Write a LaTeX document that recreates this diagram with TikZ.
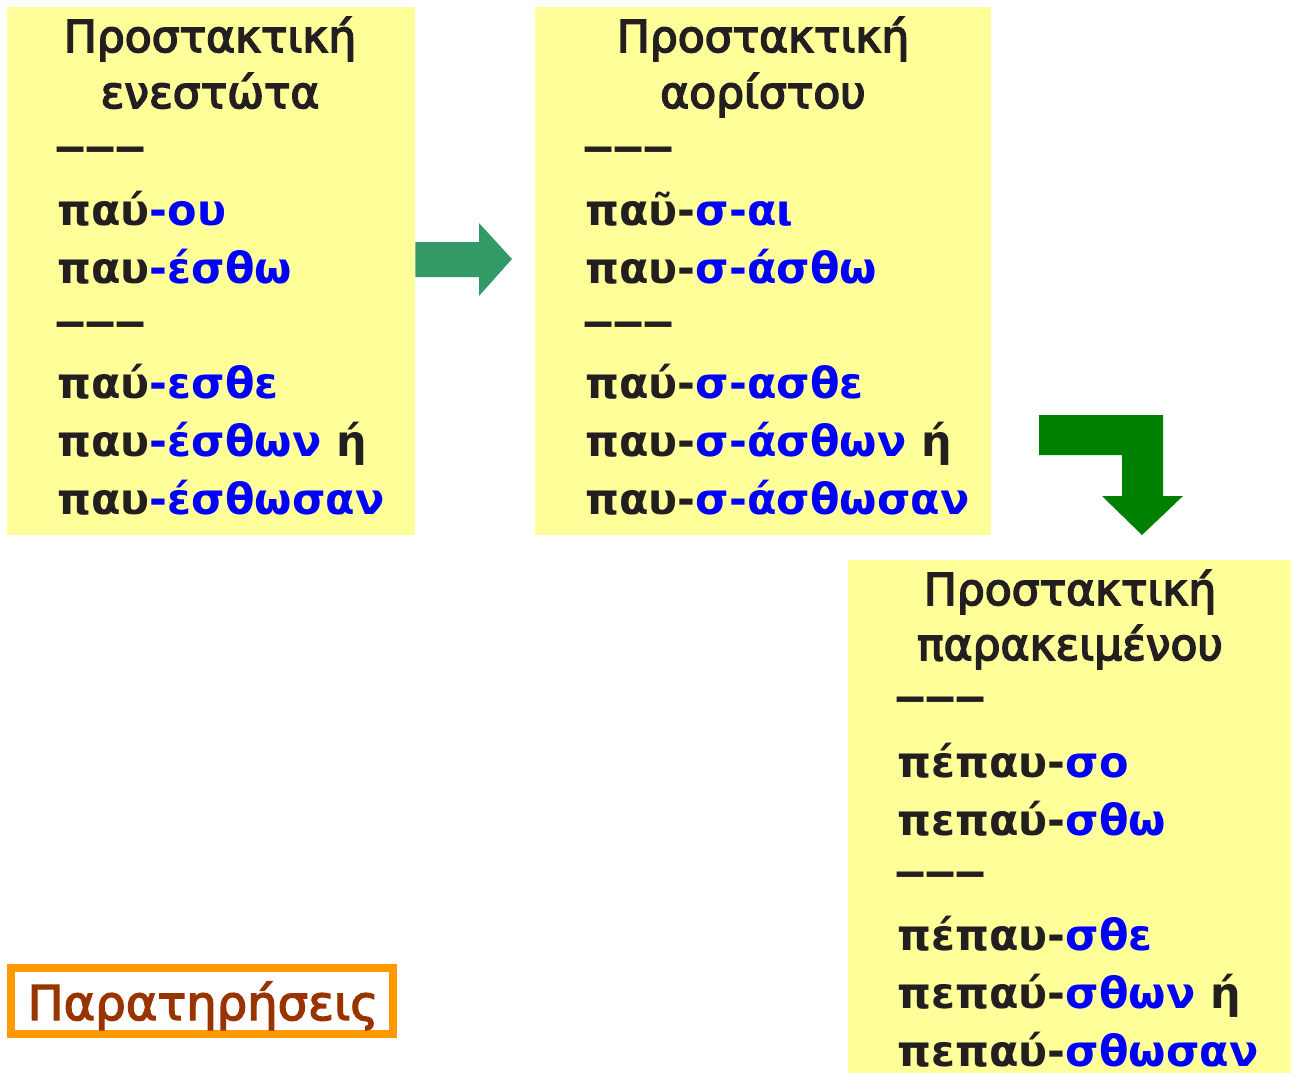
\documentclass[tikz,border=0pt]{standalone}
\usepackage{fontspec}
\setmainfont{DejaVu Sans}
\definecolor{panelyellow}{HTML}{FFFF99}
\definecolor{stemblack}{HTML}{231F20}
\definecolor{endblue}{HTML}{0000FF}
\definecolor{arrowteal}{HTML}{339966}
\definecolor{arrowgreen}{HTML}{008000}
\definecolor{notebrown}{HTML}{993300}
\definecolor{noteorange}{HTML}{FF9900}
\newcommand\suffix[1]{\textcolor{endblue}{#1}}
\newcommand\divider{\scalebox{0.7}[1]{———}}
\newcommand\heavier[2]{\special{pdf:literal direct 2 Tr #1 w}#2\special{pdf:literal direct 0 Tr}}
\tikzset{
  panel/.style={fill=panelyellow, inner sep=0pt},
  head/.style={font=\fontsize{22}{26}\selectfont, text=stemblack, anchor=base, inner sep=0pt},
  form/.style={font=\bfseries\fontsize{21.5}{26}\selectfont, text=stemblack, anchor=base west, inner sep=0pt},
}

\begin{document}
\begin{tikzpicture}[x=0.5pt, y=-0.5pt]
\useasboundingbox (0,0) rectangle (1291,1073);
\node[panel, minimum width=204pt, minimum height=264pt] (pres) at (211,271) {};
\node[panel, minimum width=228pt, minimum height=264pt] (aor) at (763,271) {};
\node[panel, minimum width=221.5pt, minimum height=256.5pt] (perf) at (1069.5,816.5) {};

\node[head] (presH1) at (210,52) {\heavier{0.8}{Προστακτική}};
\node[head] (presH2) at (210,108) {\heavier{0.8}{ενεστώτα}};
\node[form] (presD1) at (55,161) {\divider};
\node[form] (pres1) at (57,225) {παύ\suffix{-ου}};
\node[form] (pres2) at (57,283) {παυ\suffix{-έσθω}};
\node[form] (presD2) at (55,336) {\divider};
\node[form] (pres3) at (57,398) {παύ\suffix{-εσθε}};
\node[form] (pres4) at (57,456) {παυ\suffix{-έσθων} ή};
\node[form] (pres5) at (57,514) {παυ\suffix{-έσθωσαν}};

\node[head] (aorH1) at (763,52) {\heavier{0.8}{Προστακτική}};
\node[head] (aorH2) at (763,108) {\heavier{0.8}{αορίστου}};
\node[form] (aorD1) at (583,161) {\divider};
\node[form] (aor1) at (585,225) {παῦ-\suffix{σ-αι}};
\node[form] (aor2) at (585,283) {παυ-\suffix{σ-άσθω}};
\node[form] (aorD2) at (583,336) {\divider};
\node[form] (aor3) at (585,398) {παύ-\suffix{σ-ασθε}};
\node[form] (aor4) at (585,456) {παυ-\suffix{σ-άσθων} ή};
\node[form] (aor5) at (585,514) {παυ-\suffix{σ-άσθωσαν}};

\node[head] (perfH1) at (1070,605) {\heavier{0.8}{Προστακτική}};
\node[head] (perfH2) at (1070,660) {\heavier{0.8}{παρακειμένου}};
\node[form] (perfD1) at (895,711) {\divider};
\node[form] (perf1) at (897,777) {πέπαυ-\suffix{σο}};
\node[form] (perf2) at (897,835) {πεπαύ-\suffix{σθω}};
\node[form] (perfD2) at (895,886) {\divider};
\node[form] (perf3) at (897,950) {πέπαυ-\suffix{σθε}};
\node[form] (perf4) at (897,1008) {πεπαύ-\suffix{σθων} ή};
\node[form] (perf5) at (897,1066) {πεπαύ-\suffix{σθωσαν}};

\fill[arrowteal] (pres.east |- 0,242) -- (479,242) -- (479,223) -- (512,259) -- (479,296) -- (479,277) -- (pres.east |- 0,277) -- cycle;
\fill[arrowgreen] (1039,415) -- (1163,415) -- (1163,496) -- (1183,496) -- (1142,535) -- (1102,496) -- (1122,496) -- (1122,455) -- (1039,455) -- cycle;

\node[draw=noteorange, line width=4pt, minimum width=191pt, minimum height=33pt, inner sep=0pt] (note) at (202,1001) {};
\node[anchor=base, inner sep=0pt, text=notebrown, font=\fontsize{24}{28}\selectfont] (noteText) at (203,1020) {\heavier{0.7}{Παρατηρήσεις}};
\end{tikzpicture}
\end{document}
